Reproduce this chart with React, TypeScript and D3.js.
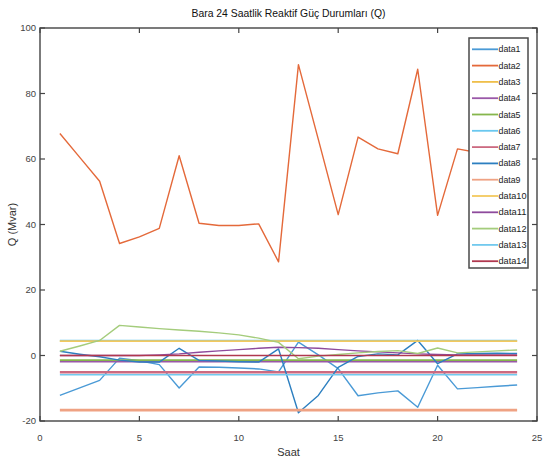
import React from "react";
import * as d3 from "d3";

const hours = [1, 2, 3, 4, 5, 6, 7, 8, 9, 10, 11, 12, 13, 14, 15, 16, 17, 18, 19, 20, 21, 22, 23, 24];

const data1 = [-12.2, -9.9, -7.6, -0.8, -1.6, -2.8, -9.9, -3.5, -3.6, -3.8, -4.1, -5.0, 4.1, 0.2, -4.0, -12.3, -11.4, -10.8, -15.8, -3.0, -10.2, -9.8, -9.4, -9.0];
const data2 = [67.8, 60.5, 53.2, 34.2, 36.2, 38.8, 61.0, 40.4, 39.7, 39.7, 40.2, 28.6, 88.8, 66.0, 43.0, 66.7, 63.1, 61.6, 87.4, 42.8, 63.1, 62.0, 61.5, 61.0];
const data3 = [4.4, 4.4, 4.4, 4.4, 4.4, 4.4, 4.4, 4.4, 4.4, 4.4, 4.4, 4.4, 4.4, 4.4, 4.4, 4.4, 4.4, 4.4, 4.4, 4.4, 4.4, 4.4, 4.4, 4.4];
const data4 = [-1.9, -1.9, -1.9, -1.9, -1.9, -1.9, -1.9, -1.9, -1.9, -1.9, -1.9, -1.9, -1.9, -1.9, -1.9, -1.9, -1.9, -1.9, -1.9, -1.9, -1.9, -1.9, -1.9, -1.9];
const data5 = [-1.4, -1.4, -1.4, -1.4, -1.4, -1.4, -1.4, -1.4, -1.4, -1.4, -1.4, -1.4, -1.4, -1.4, -1.4, -1.4, -1.4, -1.4, -1.4, -1.4, -1.4, -1.4, -1.4, -1.4];
const data6 = [4.6, 4.6, 4.6, 4.6, 4.6, 4.6, 4.6, 4.6, 4.6, 4.6, 4.6, 4.6, 4.6, 4.6, 4.6, 4.6, 4.6, 4.6, 4.6, 4.6, 4.6, 4.6, 4.6, 4.6];
const data7 = [-5.1, -5.1, -5.1, -5.1, -5.1, -5.1, -5.1, -5.1, -5.1, -5.1, -5.1, -5.1, -5.1, -5.1, -5.1, -5.1, -5.1, -5.1, -5.1, -5.1, -5.1, -5.1, -5.1, -5.1];
const data8 = [1.3, 0.4, -0.4, -1.4, -2.0, -2.0, 2.2, -1.5, -1.7, -1.9, -2.0, 2.0, -17.5, -12.2, -3.6, -0.3, 0.5, 0.2, 4.6, -2.5, 0.5, 0.6, 0.7, 0.6];
const data9 = [-16.7, -16.7, -16.7, -16.7, -16.7, -16.7, -16.7, -16.7, -16.7, -16.7, -16.7, -16.7, -16.7, -16.7, -16.7, -16.7, -16.7, -16.7, -16.7, -16.7, -16.7, -16.7, -16.7, -16.7];
const data10 = [4.4, 4.4, 4.4, 4.4, 4.4, 4.4, 4.4, 4.4, 4.4, 4.4, 4.4, 4.4, 4.4, 4.4, 4.4, 4.4, 4.4, 4.4, 4.4, 4.4, 4.4, 4.4, 4.4, 4.4];
const data11 = [0, 0, 0, 0, 0, 0.2, 0.5, 1.0, 1.4, 1.8, 2.2, 2.5, 2.4, 2.2, 1.8, 1.4, 1.1, 0.8, 0.5, 0.3, 0.2, 0.2, 0.2, 0.2];
const data12 = [1.3, 2.9, 4.6, 9.2, 8.7, 8.2, 7.8, 7.4, 6.9, 6.3, 5.3, 4.0, -1.0, -0.2, 0.3, 0.8, 1.2, 1.5, 0.6, 2.3, 0.8, 1.1, 1.4, 1.7];
const data13 = [-5.9, -5.9, -5.9, -5.9, -5.9, -5.9, -5.9, -5.9, -5.9, -5.9, -5.9, -5.9, -5.9, -5.9, -5.9, -5.9, -5.9, -5.9, -5.9, -5.9, -5.9, -5.9, -5.9, -5.9];
const data14 = [0, 0, 0, 0, 0, 0, 0, 0, 0, 0, 0, 0, 0, 0, 0, 0, 0, 0, 0, 0, 0, 0, 0, 0];

const seriesNames = ["data1", "data2", "data3", "data4", "data5", "data6", "data7", "data8", "data9", "data10", "data11", "data12", "data13", "data14"];
const seriesValues = [data1, data2, data3, data4, data5, data6, data7, data8, data9, data10, data11, data12, data13, data14];
const seriesColors = ["#4a9ad6", "#e4693a", "#efbf4a", "#9a58a8", "#86b64c", "#6ac8ef", "#cc6a80", "#2c7fc0", "#efa283", "#f3c95e", "#8e4a9c", "#a4cc7c", "#72c9ee", "#b0384f"];
const seriesWidths = [1.4, 1.4, 1.6, 1.6, 1.6, 1.6, 2.4, 1.4, 2.8, 1.6, 1.4, 1.4, 1.6, 1.6];

const xTicks = [0, 5, 10, 15, 20, 25];
const yTicks = [-20, 0, 20, 40, 60, 80, 100];

const W = 543;
const H = 460;
const left = 40;
const right = 537;
const top = 28;
const bottom = 421;
const FONT = "'Liberation Sans', Arial, Helvetica, sans-serif";
const AX = "#444";

export default function App() {
  const x = d3.scaleLinear().domain([0, 25]).range([left, right]);
  const y = d3.scaleLinear().domain([-20, 100]).range([bottom, top]);
  const line = d3
    .line<number>()
    .x((_, i) => x(hours[i]))
    .y((d) => y(d));

  const legX = 469;
  const legY = 38;
  const legW = 59;
  const legStep = 16.3;
  const legH = 230;

  return (
    <svg
      width={W}
      height={H}
      style={{ position: "absolute", left: 0, top: 0, background: "#fff" }}
      xmlns="http://www.w3.org/2000/svg"
    >
      <rect x={0} y={0} width={W} height={H} fill="#fff" />
      <g>
        {seriesValues.map((vals, i) => (
          <path
            key={seriesNames[i]}
            d={line(vals) || ""}
            fill="none"
            stroke={seriesColors[i]}
            strokeWidth={seriesWidths[i]}
            strokeLinejoin="round"
          />
        ))}
      </g>
      <rect x={left} y={top} width={right - left} height={bottom - top} fill="none" stroke={AX} strokeWidth={1.4} />
      {xTicks.map((t) => (
        <g key={"x" + t}>
          <line x1={x(t)} x2={x(t)} y1={bottom} y2={bottom - 5} stroke={AX} strokeWidth={1.2} />
          <line x1={x(t)} x2={x(t)} y1={top} y2={top + 5} stroke={AX} strokeWidth={1.2} />
          <text x={x(t)} y={441} fontFamily={FONT} fontSize={9.5} fill="#444" textAnchor="middle">
            {t}
          </text>
        </g>
      ))}
      {yTicks.map((t) => (
        <g key={"y" + t}>
          <line x1={left} x2={left + 5} y1={y(t)} y2={y(t)} stroke={AX} strokeWidth={1.2} />
          <line x1={right} x2={right - 5} y1={y(t)} y2={y(t)} stroke={AX} strokeWidth={1.2} />
          <text x={36} y={y(t) + 3.3} fontFamily={FONT} fontSize={9.5} fill="#444" textAnchor="end">
            {t}
          </text>
        </g>
      ))}
      <text
        x={(left + right) / 2}
        y={17}
        fontFamily={FONT}
        fontSize={11}
        fill="#111"
        textAnchor="middle"
        textLength={194}
        lengthAdjust="spacingAndGlyphs"
      >
        Bara 24 Saatlik Reaktif Güç Durumları (Q)
      </text>
      <text x={(left + right) / 2} y={456} fontFamily={FONT} fontSize={11} fill="#333" textAnchor="middle">
        Saat
      </text>
      <text
        transform={`translate(16, ${(top + bottom) / 2}) rotate(-90)`}
        fontFamily={FONT}
        fontSize={11}
        fill="#333"
        textAnchor="middle"
      >
        Q (Mvar)
      </text>
      <rect x={legX} y={legY} width={legW} height={legH} fill="#fff" stroke="#4a4a4a" strokeWidth={1.5} />
      {seriesNames.map((name, i) => {
        const ly = legY + 11.3 + i * legStep;
        return (
          <g key={"leg" + name}>
            <line x1={472} x2={498} y1={ly} y2={ly} stroke={seriesColors[i]} strokeWidth={1.8} />
            <text x={498.5} y={ly + 3} fontFamily={FONT} fontSize={9} fill="#222" textLength={name.length > 5 ? 28 : 22} lengthAdjust="spacingAndGlyphs">
              {name}
            </text>
          </g>
        );
      })}
    </svg>
  );
}
